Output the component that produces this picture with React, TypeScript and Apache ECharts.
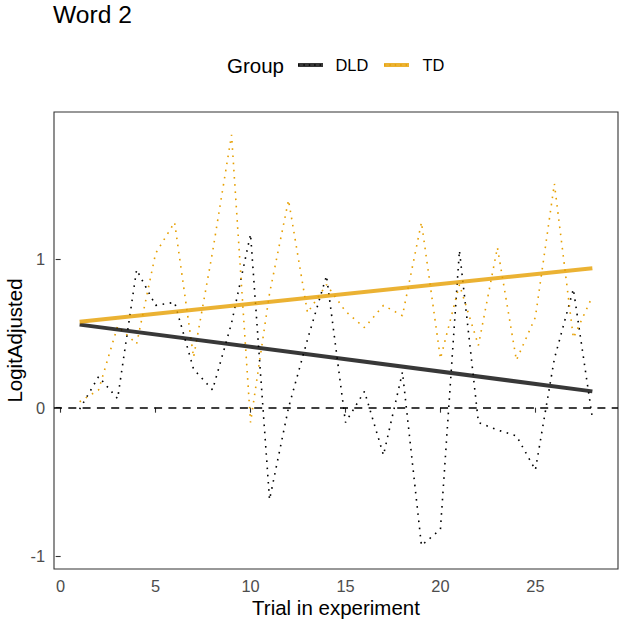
import React, { useEffect, useRef } from "react";
import * as echarts from "echarts";

const trials = [1, 2, 3, 4, 5, 6, 7, 8, 9, 10, 11, 12, 13, 14, 15, 16, 17, 18, 19, 20, 21, 22, 23, 24, 25, 26, 27, 28];
const tdValues = [0.04, 0.12, 0.55, 0.43, 1.04, 1.25, 0.34, 1.05, 1.84, -0.1, 0.77, 1.4, 0.64, 0.83, 0.65, 0.54, 0.69, 0.62, 1.25, 0.33, 0.83, 0.42, 1.08, 0.32, 0.61, 1.51, 0.47, 0.75];
const dldValues = [-0.01, 0.21, 0.06, 0.93, 0.69, 0.71, 0.26, 0.12, 0.57, 1.17, -0.62, 0.0, 0.46, 0.89, -0.1, 0.11, -0.32, 0.24, -0.93, -0.82, 1.06, -0.1, -0.15, -0.19, -0.42, 0.33, 0.8, -0.07];
const trendX = [1, 28];
const tdTrend = [0.58, 0.94];
const dldTrend = [0.56, 0.11];
const xTicks = [0, 5, 10, 15, 20, 25];
const yTicks = [-1, 0, 1];
const groups = ["DLD", "TD"];

const FONT = "'Liberation Sans', Arial, Helvetica, sans-serif";
const ORANGE = "#E69F00";
const ORANGE_TREND = "rgba(230,159,0,0.8)";
const BLACK_TREND = "rgba(0,0,0,0.78)";

export default function App() {
  const ref = useRef<HTMLDivElement>(null);

  useEffect(() => {
    if (!ref.current) return;
    const chart = echarts.init(ref.current, undefined, { renderer: "svg" });

    const pairs = (xs: number[], ys: number[]) => xs.map((x, i) => [x, ys[i]]);

    const dotted = (color: string) => ({
      color,
      width: 1.6,
      type: [1.6, 5.6] as number[],
      cap: "butt" as const,
    });

    chart.setOption({
      animation: false,
      backgroundColor: "#ffffff",
      grid: {
        left: 54,
        right: 6,
        top: 112,
        bottom: 55,
        show: true,
        borderColor: "#333333",
        borderWidth: 1.1,
        backgroundColor: "#ffffff",
        containLabel: false,
      },
      xAxis: {
        type: "value",
        min: -0.35,
        max: 29.35,
        axisLine: { show: false },
        splitLine: { show: false },
        axisTick: {
          show: true,
          length: 5,
          customValues: xTicks,
          lineStyle: { color: "#333333", width: 1.1 },
        },
        axisLabel: {
          customValues: xTicks,
          margin: 9,
          color: "#4D4D4D",
          fontSize: 16.4,
          fontFamily: FONT,
        },
      },
      yAxis: {
        type: "value",
        min: -1.088,
        max: 1.994,
        axisLine: { show: false },
        splitLine: { show: false },
        axisTick: {
          show: true,
          length: 5,
          customValues: yTicks,
          lineStyle: { color: "#333333", width: 1.1 },
        },
        axisLabel: {
          customValues: yTicks,
          margin: 9,
          color: "#4D4D4D",
          fontSize: 16.4,
          fontFamily: FONT,
        },
      },
      series: [
        {
          name: groups[0],
          type: "line",
          data: pairs(trials, dldValues),
          showSymbol: false,
          symbol: "none",
          lineStyle: dotted("#000000"),
          z: 2,
          markLine: {
            silent: true,
            symbol: ["none", "none"],
            label: { show: false },
            lineStyle: { color: "#000000", width: 1.5, type: [8, 6.3] },
            data: [{ yAxis: 0 }],
          },
        },
        {
          name: groups[1],
          type: "line",
          data: pairs(trials, tdValues),
          showSymbol: false,
          symbol: "none",
          lineStyle: dotted(ORANGE),
          z: 2,
        },
        {
          name: groups[0] + " trend",
          type: "line",
          data: pairs(trendX, dldTrend),
          showSymbol: false,
          symbol: "none",
          lineStyle: { color: BLACK_TREND, width: 4, cap: "butt" },
          z: 3,
        },
        {
          name: groups[1] + " trend",
          type: "line",
          data: pairs(trendX, tdTrend),
          showSymbol: false,
          symbol: "none",
          lineStyle: { color: ORANGE_TREND, width: 4, cap: "butt" },
          z: 3,
        },
      ],
      graphic: [
        {
          type: "text",
          left: 53,
          top: 2,
          style: {
            text: "Word 2",
            fontSize: 24.6,
            fontFamily: FONT,
            fill: "#000000",
          },
        },
        {
          type: "text",
          x: 14,
          y: 340.5,
          rotation: Math.PI / 2,
          style: {
            text: "LogitAdjusted",
            x: 0,
            y: 0,
            align: "center",
            verticalAlign: "middle",
            fontSize: 20.5,
            fontFamily: FONT,
            fill: "#000000",
          },
        },
        {
          type: "text",
          x: 336,
          y: 607,
          style: {
            text: "Trial in experiment",
            align: "center",
            verticalAlign: "middle",
            fontSize: 20.5,
            fontFamily: FONT,
            fill: "#000000",
          },
        },
        {
          type: "text",
          x: 227,
          y: 65,
          style: {
            text: "Group",
            align: "left",
            verticalAlign: "middle",
            fontSize: 20.5,
            fontFamily: FONT,
            fill: "#000000",
          },
        },
        {
          type: "line",
          shape: { x1: 298, y1: 65, x2: 323, y2: 65 },
          style: { stroke: BLACK_TREND, lineWidth: 4 },
        },
        {
          type: "line",
          shape: { x1: 298, y1: 65, x2: 323, y2: 65 },
          style: { stroke: "#000000", lineWidth: 1.4, lineDash: [1.4, 4] },
        },
        {
          type: "text",
          x: 335.5,
          y: 65,
          style: {
            text: groups[0],
            align: "left",
            verticalAlign: "middle",
            fontSize: 16.4,
            fontFamily: FONT,
            fill: "#000000",
          },
        },
        {
          type: "line",
          shape: { x1: 384, y1: 65, x2: 409, y2: 65 },
          style: { stroke: ORANGE_TREND, lineWidth: 4 },
        },
        {
          type: "line",
          shape: { x1: 384, y1: 65, x2: 409, y2: 65 },
          style: { stroke: ORANGE, lineWidth: 1.4, lineDash: [1.4, 4] },
        },
        {
          type: "text",
          x: 422.5,
          y: 65,
          style: {
            text: groups[1],
            align: "left",
            verticalAlign: "middle",
            fontSize: 16.4,
            fontFamily: FONT,
            fill: "#000000",
          },
        },
      ],
    });

    return () => {
      chart.dispose();
    };
  }, []);

  return (
    <div
      ref={ref}
      style={{ position: "fixed", left: 0, top: 0, width: 624, height: 624, background: "#fff" }}
    />
  );
}
